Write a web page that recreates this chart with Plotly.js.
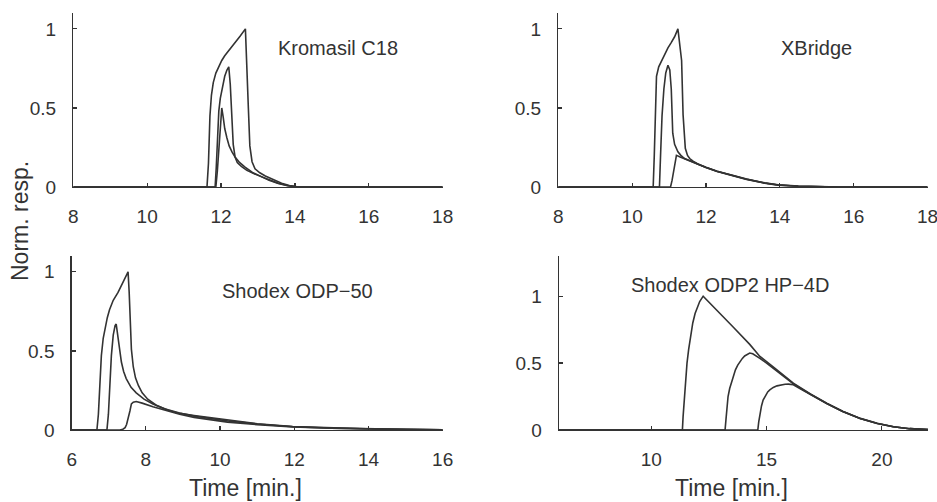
<!DOCTYPE html>
<html>
<head>
<meta charset="utf-8">
<script src="https://cdn.plot.ly/plotly-3.0.1.min.js"></script>
<style>html,body{margin:0;padding:0;background:#fff;}#chart{width:937px;height:502px;}</style>
</head>
<body>
<div id="chart"></div>
<script>
// ---------- Panel 1: Kromasil C18 ----------
const kromasilAx = [8, 11.62, 11.66, 11.70, 11.74, 11.79, 11.86, 11.93, 12.02, 12.10, 12.24, 12.38, 12.52, 12.66, 12.70, 12.74, 12.78, 12.84, 12.92, 13.05, 13.20, 13.40, 13.64, 13.85, 14.05, 18];
const kromasilAy = [0, 0, 0.15, 0.45, 0.58, 0.66, 0.72, 0.76, 0.80, 0.83, 0.87, 0.91, 0.955, 1.0, 0.80, 0.50, 0.26, 0.16, 0.115, 0.09, 0.07, 0.048, 0.024, 0.009, 0.002, 0];
const kromasilBx = [8, 11.84, 11.87, 11.90, 11.94, 11.98, 12.04, 12.10, 12.16, 12.21, 12.25, 12.29, 12.33, 12.38, 12.44, 12.55, 12.70, 12.90, 13.10, 13.30, 13.55, 13.80, 14.05, 18];
const kromasilBy = [0, 0, 0.12, 0.32, 0.48, 0.56, 0.64, 0.70, 0.74, 0.76, 0.65, 0.45, 0.27, 0.19, 0.155, 0.13, 0.105, 0.083, 0.066, 0.046, 0.024, 0.009, 0.002, 0];
const kromasilCx = [8, 11.86, 11.90, 11.95, 11.99, 12.02, 12.06, 12.10, 12.16, 12.22, 12.30, 12.38, 12.50, 12.65, 12.85, 13.10, 13.30, 13.55, 13.80, 14.05, 18];
const kromasilCy = [0, 0, 0.10, 0.30, 0.45, 0.50, 0.44, 0.37, 0.31, 0.26, 0.22, 0.19, 0.155, 0.125, 0.092, 0.062, 0.042, 0.022, 0.008, 0.001, 0];

// ---------- Panel 2: XBridge ----------
const xbridgeAx = [8, 10.57, 10.60, 10.63, 10.66, 10.72, 10.80, 10.90, 10.97, 11.05, 11.15, 11.24, 11.30, 11.34, 11.38, 11.44, 11.50, 11.56, 11.65, 11.78, 12.00, 12.30, 12.69, 13.10, 13.59, 13.95, 14.50, 15.00, 15.60, 18];
const xbridgeAy = [0, 0, 0.20, 0.50, 0.70, 0.76, 0.80, 0.85, 0.88, 0.91, 0.95, 1.0, 0.90, 0.80, 0.456, 0.245, 0.20, 0.18, 0.163, 0.145, 0.125, 0.10, 0.076, 0.05, 0.026, 0.014, 0.006, 0.002, 0, 0];
const xbridgeBx = [8, 10.74, 10.77, 10.81, 10.86, 10.91, 10.97, 11.02, 11.06, 11.08, 11.10, 11.15, 11.24, 11.32, 11.42, 11.50, 11.60, 11.78, 12.00, 12.30, 12.69, 13.10, 13.59, 13.95, 14.50, 15.00, 15.60, 18];
const xbridgeBy = [0, 0, 0.20, 0.45, 0.62, 0.72, 0.77, 0.74, 0.62, 0.48, 0.34, 0.27, 0.223, 0.20, 0.18, 0.172, 0.162, 0.144, 0.124, 0.099, 0.075, 0.049, 0.025, 0.013, 0.005, 0.002, 0, 0];
const xbridgeCx = [8, 11.04, 11.08, 11.12, 11.16, 11.20, 11.30, 11.45, 11.60, 11.78, 12.00, 12.30, 12.69, 13.10, 13.59, 13.95, 14.50, 15.00, 15.60, 18];
const xbridgeCy = [0, 0, 0.04, 0.10, 0.16, 0.20, 0.19, 0.175, 0.16, 0.143, 0.123, 0.098, 0.074, 0.048, 0.024, 0.012, 0.005, 0.002, 0, 0];

// ---------- Panel 3: Shodex ODP-50 ----------
const odp50Ax = [6, 6.68, 6.72, 6.76, 6.80, 6.85, 6.90, 6.96, 7.02, 7.12, 7.25, 7.38, 7.52, 7.55, 7.58, 7.61, 7.66, 7.72, 7.80, 7.90, 8.05, 8.28, 8.60, 8.91, 9.30, 9.72, 10.2, 11.0, 11.96, 13.0, 13.94, 15.0, 16];
const odp50Ay = [0, 0, 0.10, 0.30, 0.47, 0.58, 0.65, 0.71, 0.76, 0.82, 0.87, 0.93, 1.0, 0.87, 0.67, 0.51, 0.40, 0.33, 0.28, 0.235, 0.195, 0.157, 0.125, 0.105, 0.092, 0.08, 0.062, 0.04, 0.022, 0.013, 0.008, 0.004, 0.002];
const odp50Bx = [6, 6.95, 6.99, 7.03, 7.07, 7.12, 7.17, 7.20, 7.23, 7.27, 7.34, 7.40, 7.47, 7.60, 7.74, 7.95, 8.19, 8.50, 8.91, 9.30, 9.72, 10.2, 11.0, 11.96, 13.0, 14.0, 15.0, 16];
const odp50By = [0, 0, 0.10, 0.30, 0.47, 0.60, 0.66, 0.67, 0.62, 0.52, 0.43, 0.37, 0.325, 0.27, 0.235, 0.195, 0.165, 0.135, 0.108, 0.088, 0.074, 0.058, 0.038, 0.021, 0.012, 0.007, 0.004, 0.002];
const odp50Cx = [6, 7.30, 7.38, 7.44, 7.48, 7.53, 7.57, 7.61, 7.66, 7.74, 7.90, 8.19, 8.50, 8.91, 9.30, 9.72, 10.2, 11.0, 11.96, 13.0, 14.0, 15.0, 16];
const odp50Cy = [0, 0, 0.005, 0.015, 0.035, 0.075, 0.12, 0.165, 0.176, 0.18, 0.17, 0.147, 0.125, 0.1, 0.08, 0.064, 0.05, 0.034, 0.02, 0.011, 0.006, 0.003, 0.001];

// ---------- Panel 4: Shodex ODP2 HP-4D ----------
const odp2Ax = [6, 11.35, 11.38, 11.42, 11.46, 11.50, 11.55, 11.62, 11.70, 11.80, 11.90, 12.00, 12.10, 12.25, 13.00, 13.55, 14.27, 14.71, 15.30, 16.16, 16.90, 17.61, 18.30, 19.06, 19.80, 20.50, 21.20, 22];
const odp2Ay = [0, 0, 0.10, 0.20, 0.30, 0.40, 0.50, 0.60, 0.70, 0.80, 0.87, 0.92, 0.96, 1.0, 0.87, 0.77, 0.64, 0.55, 0.47, 0.35, 0.27, 0.20, 0.14, 0.087, 0.05, 0.025, 0.01, 0.003];
const odp2Bx = [6, 13.20, 13.24, 13.28, 13.33, 13.40, 13.48, 13.55, 13.65, 13.75, 13.84, 13.95, 14.05, 14.15, 14.27, 14.40, 14.55, 14.71, 15.00, 15.43, 16.16, 16.90, 17.61, 18.30, 19.06, 19.80, 20.50, 21.20, 22];
const odp2By = [0, 0, 0.08, 0.17, 0.25, 0.31, 0.36, 0.40, 0.45, 0.485, 0.51, 0.535, 0.553, 0.566, 0.575, 0.57, 0.555, 0.535, 0.50, 0.445, 0.345, 0.267, 0.198, 0.139, 0.086, 0.049, 0.024, 0.01, 0.003];
const odp2Cx = [6, 14.62, 14.66, 14.71, 14.78, 14.85, 14.95, 15.05, 15.14, 15.29, 15.45, 15.60, 15.80, 15.95, 16.16, 16.50, 16.90, 17.61, 18.30, 19.06, 19.80, 20.50, 21.20, 22];
const odp2Cy = [0, 0, 0.06, 0.124, 0.18, 0.224, 0.26, 0.285, 0.30, 0.318, 0.33, 0.337, 0.342, 0.343, 0.338, 0.305, 0.265, 0.197, 0.138, 0.086, 0.049, 0.024, 0.01, 0.003];

const panelLabels = ["Kromasil C18", "XBridge", "Shodex ODP\u221250", "Shodex ODP2 HP\u22124D"];
const yTicks = [0, 0.5, 1];
const yTickText = ["0", "0.5", "1"];
const xTitle = "Time [min.]";
const yTitle = "Norm. resp.";

const ink = "#333333";
const font = "Liberation Sans, Arial, Helvetica, sans-serif";

function line(x, y, xa, ya) {
  return {x: x, y: y, xaxis: xa, yaxis: ya, type: "scatter", mode: "lines",
          line: {color: ink, width: 1.6}, hoverinfo: "skip", showlegend: false};
}

const data = [
  line(kromasilAx, kromasilAy, "x", "y"),
  line(kromasilBx, kromasilBy, "x", "y"),
  line(kromasilCx, kromasilCy, "x", "y"),
  line(xbridgeAx, xbridgeAy, "x2", "y2"),
  line(xbridgeBx, xbridgeBy, "x2", "y2"),
  line(xbridgeCx, xbridgeCy, "x2", "y2"),
  line(odp50Ax, odp50Ay, "x3", "y3"),
  line(odp50Bx, odp50By, "x3", "y3"),
  line(odp50Cx, odp50Cy, "x3", "y3"),
  line(odp2Ax, odp2Ay, "x4", "y4"),
  line(odp2Bx, odp2By, "x4", "y4"),
  line(odp2Cx, odp2Cy, "x4", "y4")
];

function xax(domain, range, dtick, anchor) {
  return {domain: domain, range: range, dtick: dtick, tick0: 0, anchor: anchor,
          showline: true, linecolor: ink, linewidth: 1.4, ticks: "inside", ticklen: 4,
          tickcolor: ink, tickwidth: 1.2, showgrid: false, zeroline: false,
          ticklabelstandoff: 12, ticklabeloverflow: "allow",
          tickfont: {family: font, size: 19, color: ink}, fixedrange: true};
}
function yax(domain, range, anchor) {
  return {domain: domain, range: range, tickvals: yTicks, ticktext: yTickText, anchor: anchor,
          showline: true, linecolor: ink, linewidth: 1.4, ticks: "inside", ticklen: 4,
          tickcolor: ink, tickwidth: 1.2, showgrid: false, zeroline: false,
          ticklabelstandoff: 12, ticklabeloverflow: "allow",
          tickfont: {family: font, size: 19, color: ink}, fixedrange: true};
}

const layout = {
  width: 937, height: 502,
  margin: {l: 0, r: 0, t: 0, b: 0},
  paper_bgcolor: "#ffffff", plot_bgcolor: "#ffffff",
  showlegend: false,
  xaxis:  xax([0.0782, 0.4725], [8, 18.002], 2, "y"),
  yaxis:  yax([0.6275, 0.974], [0, 1.1], "x"),
  xaxis2: xax([0.5958, 0.9900], [8, 18.002], 2, "y2"),
  yaxis2: yax([0.6275, 0.974], [0, 1.1], "x2"),
  xaxis3: xax([0.0765, 0.4725], [6, 16.002], 2, "y3"),
  yaxis3: yax([0.1434, 0.49], [0, 1.1], "x3"),
  xaxis4: xax([0.5966, 0.9904], [6, 22], 5, "y4"),
  yaxis4: yax([0.1434, 0.49], [0, 1.3], "x4"),
  annotations: [
    {text: panelLabels[0], xref: "x", yref: "y", x: 15.17, y: 0.88, showarrow: false, font: {family: font, size: 20, color: ink}},
    {text: panelLabels[1], xref: "x2", yref: "y2", x: 15.0, y: 0.88, showarrow: false, font: {family: font, size: 20, color: ink}},
    {text: panelLabels[2], xref: "x3", yref: "y3", x: 12.09, y: 0.88, showarrow: false, font: {family: font, size: 20, color: ink}},
    {text: panelLabels[3], xref: "x4", yref: "y4", x: 13.43, y: 1.08, showarrow: false, font: {family: font, size: 20, color: ink}},
    {text: yTitle, xref: "paper", yref: "paper", x: 20/937, y: 1 - 221/502, xanchor: "center", yanchor: "middle", textangle: -90, showarrow: false, font: {family: font, size: 23, color: ink}},
    {text: xTitle, xref: "paper", yref: "paper", x: 245.5/937, y: 1 - 488/502, xanchor: "center", yanchor: "middle", showarrow: false, font: {family: font, size: 23, color: ink}},
    {text: xTitle, xref: "paper", yref: "paper", x: 731.5/937, y: 1 - 488/502, xanchor: "center", yanchor: "middle", showarrow: false, font: {family: font, size: 23, color: ink}}
  ]
};

Plotly.newPlot("chart", data, layout, {displayModeBar: false, staticPlot: true});
</script>
</body>
</html>
